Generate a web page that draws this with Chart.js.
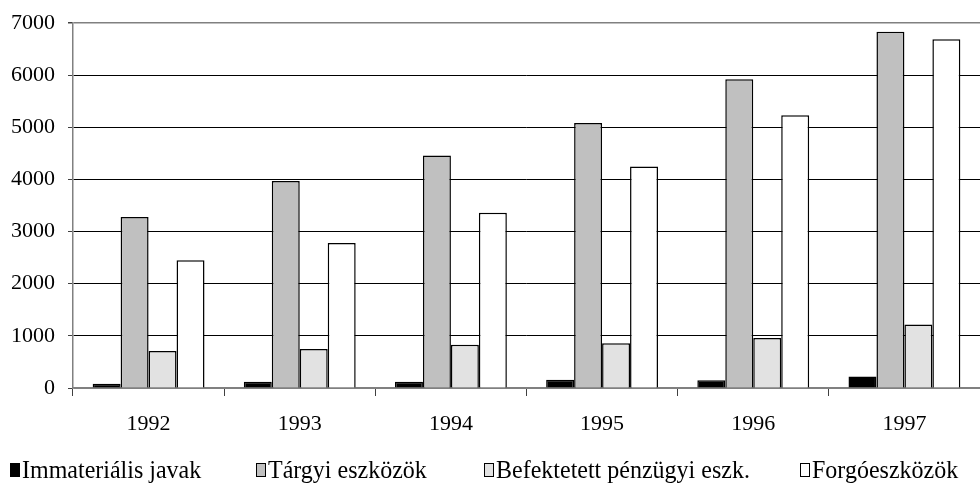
<!DOCTYPE html>
<html>
<head>
<meta charset="utf-8">
<script src="https://cdn.jsdelivr.net/npm/chart.js@4/dist/chart.umd.min.js"></script>
<style>
  html, body { margin: 0; padding: 0; background: #fff; }
  #wrap { position: relative; width: 980px; height: 489px; }
  #legend { position: absolute; left: 0; top: 456px; width: 980px; height: 32px;
            font-family: "Liberation Serif", "Times New Roman", serif; font-size: 24px; color: #000; }
  .item { position: absolute; top: 0; display: flex; align-items: center; white-space: nowrap; }
  .item span.txt { display: inline-block; transform: scaleY(1.08); transform-origin: center; }
  .box { display: inline-block; flex: none; width: 10px; height: 14px; border: 1px solid #000;
         margin-right: 2px; box-sizing: border-box; }
</style>
</head>
<body>
<div id="wrap">
  <canvas id="c" width="980" height="489"></canvas>
  <div id="legend"></div>
</div>
<script>
// Eszközállomány évenként (1992–1997)
const categories = ['1992', '1993', '1994', '1995', '1996', '1997'];
const seriesNames = ['Immateriális javak', 'Tárgyi eszközök', 'Befektetett pénzügyi eszk.', 'Forgóeszközök'];
const immaterialis = [80, 120, 120, 160, 150, 220];
const targyi = [3280, 3970, 4460, 5080, 5920, 6830];
const befektetett = [710, 750, 830, 860, 960, 1220];
const forgo = [2450, 2780, 3360, 4250, 5230, 6690];
const yTicks = [0, 1000, 2000, 3000, 4000, 5000, 6000, 7000];

const fills = ['#000000', '#c0c0c0', '#e2e2e2', '#ffffff'];
const legendLeft = [10, 256, 484, 800];
const serif = '"Liberation Serif", "Times New Roman", serif';

const values = [immaterialis, targyi, befektetett, forgo];
const datasets = values.map((v, i) => ({
  label: seriesNames[i],
  data: v,
  backgroundColor: fills[i],
  borderColor: '#000',
  borderWidth: 1.5,
  categoryPercentage: 0.74,
  barPercentage: 1.0
}));

new Chart(document.getElementById('c'), {
  type: 'bar',
  data: { labels: categories, datasets },
  options: {
    responsive: false,
    animation: false,
    layout: { padding: { top: 23, right: 0, bottom: 41, left: 0 } },
    plugins: { legend: { display: false }, tooltip: { enabled: false } },
    scales: {
      x: {
        grid: { display: true, drawOnChartArea: false, drawTicks: true, tickLength: 8, color: '#404040', offset: true },
        border: { display: true, color: '#808080', width: 1.5 },
        ticks: { color: '#000', font: { family: serif, size: 22 }, padding: 15, maxRotation: 0 },
        afterFit: s => { s.height = 60; }
      },
      y: {
        min: 0, max: 7000,
        afterBuildTicks: s => { s.ticks = yTicks.map(v => ({ value: v })); },
        grid: {
          color: c => (c.tick && (c.tick.value === 7000 || c.tick.value === 0)) ? '#808080' : '#000',
          tickColor: '#404040',
          lineWidth: c => (c.tick && c.tick.value === 7000) ? 1.5 : 1,
          tickLength: 5
        },
        border: { display: true, color: '#808080', width: 1.5 },
        ticks: { color: '#000', font: { family: serif, size: 22, lineHeight: 1 }, padding: 13, callback: v => String(v) },
        afterFit: s => { s.width = 73; s.paddingTop = 0; s.paddingBottom = 0; }
      }
    }
  }
});

// Jelmagyarázat
const legend = document.getElementById('legend');
seriesNames.forEach((name, i) => {
  const item = document.createElement('div');
  item.className = 'item';
  item.style.left = legendLeft[i] + 'px';
  const box = document.createElement('span');
  box.className = 'box';
  box.style.background = fills[i];
  const txt = document.createElement('span');
  txt.className = 'txt';
  txt.textContent = name;
  item.appendChild(box);
  item.appendChild(txt);
  legend.appendChild(item);
});
</script>
</body>
</html>
